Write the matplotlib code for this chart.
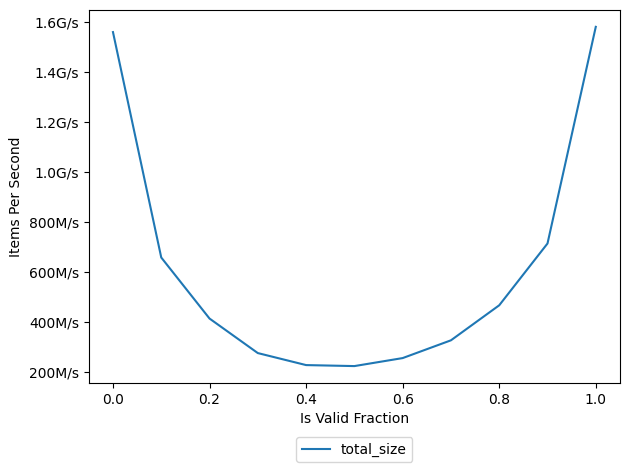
import matplotlib
matplotlib.use("Agg")
import matplotlib.pyplot as plt
from matplotlib.ticker import FuncFormatter

fractions = [0.0, 0.1, 0.2, 0.3, 0.4, 0.5, 0.6, 0.7, 0.8, 0.9, 1.0]
total_size = [1560e6, 659e6, 415e6, 277e6, 229e6, 225e6, 257e6, 328e6, 468e6, 715e6, 1581e6]


def fmt(v, pos):
    if v >= 1e9:
        return f"{v/1e9:.1f}G/s"
    return f"{v/1e6:.0f}M/s"


fig, ax = plt.subplots(figsize=(6.3, 4.7), dpi=100)
ax.plot(fractions, total_size, label="total_size")
ax.yaxis.set_major_formatter(FuncFormatter(fmt))
ax.set_xlabel("Is Valid Fraction")
ax.set_ylabel("Items Per Second")
ax.legend(loc="upper center", bbox_to_anchor=(0.5, -0.126))
fig.subplots_adjust(left=0.141, right=0.984, top=0.979, bottom=0.185)
fig.savefig("out.png")
